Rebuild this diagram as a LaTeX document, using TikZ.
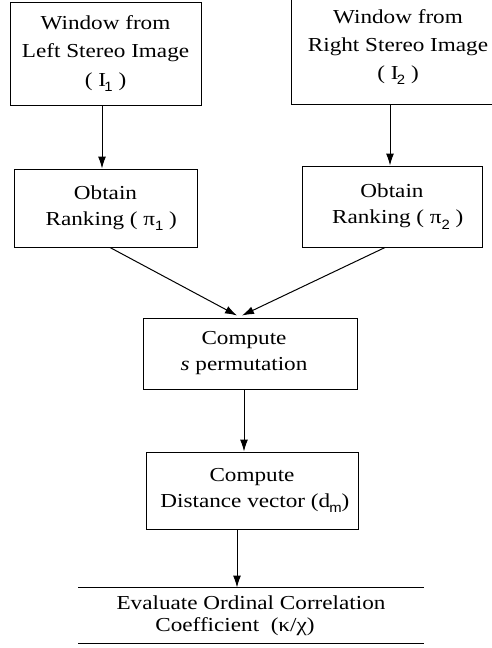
\documentclass[tikz,border=0pt]{standalone}
\usepackage{fontspec}
\setmainfont{Liberation Serif}[FakeStretch=1.17]
\setsansfont{Liberation Sans}[FakeStretch=1.1]
\usetikzlibrary{arrows.meta}
% subscripts set in a small sans face, dropped below the baseline
\newcommand\lowsub[1]{\raisebox{-5.5pt}{\sffamily\fontsize{13.5}{13.5}\selectfont #1}}
\tikzset{
  stage/.style={draw, line width=1pt, rectangle, inner sep=0pt, align=center,
    font=\fontsize{19.8}{26}\selectfont},
  flowarrow/.style={line width=1pt, -{Latex[length=12pt,width=8pt]}},
}
\begin{document}
\begin{tikzpicture}[x=1pt,y=-1pt]
\useasboundingbox (0,0) rectangle (491,648);

% input windows
\node[stage, minimum width=191pt, minimum height=103pt,
      font=\fontsize{19.8}{28.5}\selectfont] (winL) at (105.5,53.5)
  {Window from\\Left Stereo Image\\( I\kern-1.5pt\lowsub{1} )};
\node[stage, minimum width=214pt, minimum height=115pt,
      font=\fontsize{19.8}{28}\selectfont] (winR) at (398,47)
  {Window from\\Right Stereo Image\\( I\kern-1.5pt\lowsub{2} )};

% ranking stages
\node[stage, minimum width=183pt, minimum height=78pt] (rankL) at (105.5,208)
  {Obtain\\\ \ Ranking ( π\lowsub{1} )};
\node[stage, minimum width=180pt, minimum height=81pt] (rankR) at (392,206.5)
  {Obtain\\\ \ Ranking ( π\lowsub{2} )};

% permutation and distance
\node[stage, minimum width=214pt, minimum height=71pt] (perm) at (250,353.5)
  {Compute\hspace*{12pt}\\\textit{s} permutation\hspace*{12pt}};
\node[stage, minimum width=212pt, minimum height=77pt] (dist) at (252,490.5)
  {Compute\\\ Distance vector (d\kern-1pt\lowsub{m})};

% final evaluation: only its top and bottom rules are drawn
\node[stage, draw=none, minimum width=345pt, minimum height=55pt,
      font=\fontsize{19.8}{22}\selectfont] (eval) at (251,615.5)
  {Evaluate Ordinal Correlation\\Coefficient\ \ (κ/χ)\hspace*{32pt}};
\draw[line width=1pt] (eval.north west) -- (eval.north east);
\draw[line width=1pt] (eval.south west) -- (eval.south east);

% connectors
\draw[flowarrow] ([xshift=-3.5pt]winL.south) -- ([xshift=-3.5pt]winL.south |- rankL.north);
\draw[flowarrow] ([xshift=-8pt]winR.south) -- ([xshift=-8pt]winR.south |- rankR.north);
\draw[flowarrow] ([xshift=4.5pt]rankL.south) -- ([xshift=-13pt,yshift=2pt]perm.north);
\draw[flowarrow] ([xshift=-7pt]rankR.south) -- ([xshift=-8pt,yshift=2pt]perm.north);
\draw[flowarrow] ([xshift=-6pt]perm.south) -- ([xshift=-6pt]perm.south |- dist.north);
\draw[flowarrow] ([xshift=-15pt]dist.south) -- ([xshift=-15pt]dist.south |- eval.north);
\end{tikzpicture}
\end{document}
